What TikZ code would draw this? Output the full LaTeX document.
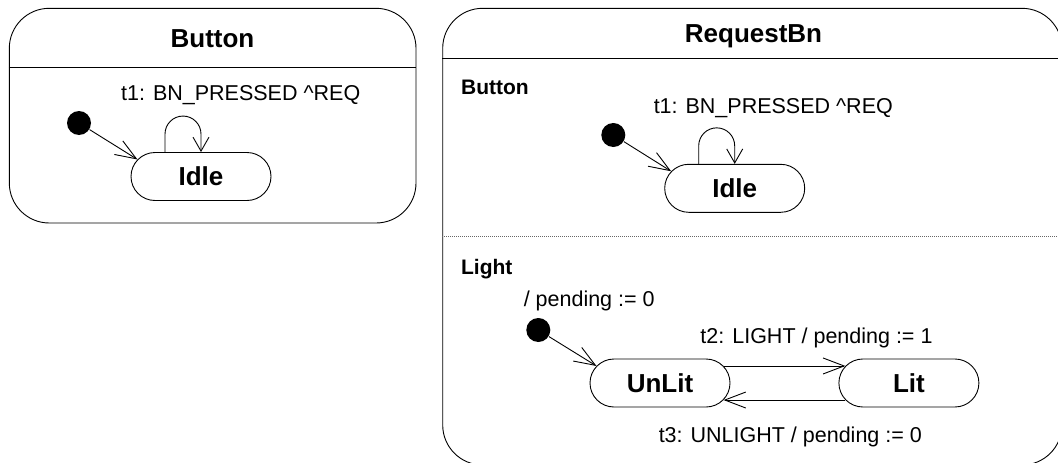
\documentclass[tikz,border=0pt]{standalone}
\usepackage{fontspec}
\setmainfont{Liberation Sans}
\usetikzlibrary{positioning,arrows.meta,shapes.misc}

\begin{document}
\begin{tikzpicture}[x=1pt, y=1pt, line width=0.9pt,
    every node/.style={font=\fontsize{21.5}{24}\selectfont, inner sep=0pt},
    chart/.style={draw, rounded corners=40pt},
    charttitle/.style={font=\fontsize{26}{30}\selectfont\bfseries, anchor=base},
    regionname/.style={font=\fontsize{21}{24}\selectfont\bfseries, anchor=base west},
    statebox/.style={draw, rounded rectangle, minimum width=144pt, minimum height=48pt, inner sep=2pt, font=\fontsize{26}{30}\selectfont\bfseries},
    startdot/.style={circle, fill=black, minimum size=24pt},
    trans/.style={-{Straight Barb[length=21pt,width=16pt]}},
    selfloop/.style={-{Straight Barb[length=14pt,width=16pt]}},
    guard/.style={anchor=base west}]
  \clip (0,0) rectangle (1058,-463);

  \node[chart, minimum width=406.7pt, minimum height=214.7pt] (buttonChart) at (212.65,-115.65) {};
  \draw ([yshift=-60pt]buttonChart.north west) -- ([yshift=-60pt]buttonChart.north east);
  \node[charttitle] (buttonTitle) at (212.5,-47.3) {Button};
  \node[startdot] (buttonStart) at (79,-123) {};
  \node[statebox] (buttonIdle) at (201,-176.5) {Idle};
  \draw[trans] (buttonStart) -- (buttonIdle.165);
  \draw[selfloop] ([xshift=-36pt]buttonIdle.north) -- ++(0,18) arc[start angle=180, end angle=0, radius=18] -- (buttonIdle.north);
  \node[guard] (buttonT1) at (120.7,-100.7) {t1: BN\_PRESSED \textasciicircum REQ};

  \node[chart, minimum width=619.3pt, minimum height=456.7pt] (requestChart) at (752.35,-236.65) {};
  \draw ([yshift=-51pt]requestChart.north west) -- ([yshift=-51pt]requestChart.north east);
  \draw[black!60, dash pattern=on 1pt off 1pt] ([yshift=-229pt]requestChart.north west) -- ([yshift=-229pt]requestChart.north east);
  \node[charttitle] (requestTitle) at (753.5,-42.7) {RequestBn};

  \node[regionname] (buttonRegion) at (460.7,-94.3) {Button};
  \node[startdot] (requestStart) at (613.3,-135) {};
  \node[statebox] (requestIdle) at (734.7,-188.3) {Idle};
  \draw[trans] (requestStart) -- (requestIdle.165);
  \draw[selfloop] ([xshift=-36pt]requestIdle.north) -- ++(0,18) arc[start angle=180, end angle=0, radius=18] -- (requestIdle.north);
  \node[guard] (requestT1) at (653.3,-113.3) {t1: BN\_PRESSED \textasciicircum REQ};

  \node[regionname] (lightRegion) at (460.7,-274.3) {Light};
  \node[guard] (lightInit) at (523.3,-306) {/ pending := 0};
  \node[startdot] (lightStart) at (538.3,-330) {};
  \node[statebox] (unlit) at (660,-383) {UnLit};
  \node[statebox, right=108pt of unlit] (lit) {Lit};
  \draw[trans] (lightStart) -- (unlit.165);
  \draw[trans] (unlit.15) -- (lit.165);
  \draw[trans] (lit.195) -- (unlit.345);
  \node[guard] (lightT2) at (700,-343.3) {t2: LIGHT / pending := 1};
  \node[guard] (lightT3) at (658.3,-442.3) {t3: UNLIGHT / pending := 0};
\end{tikzpicture}
\end{document}
